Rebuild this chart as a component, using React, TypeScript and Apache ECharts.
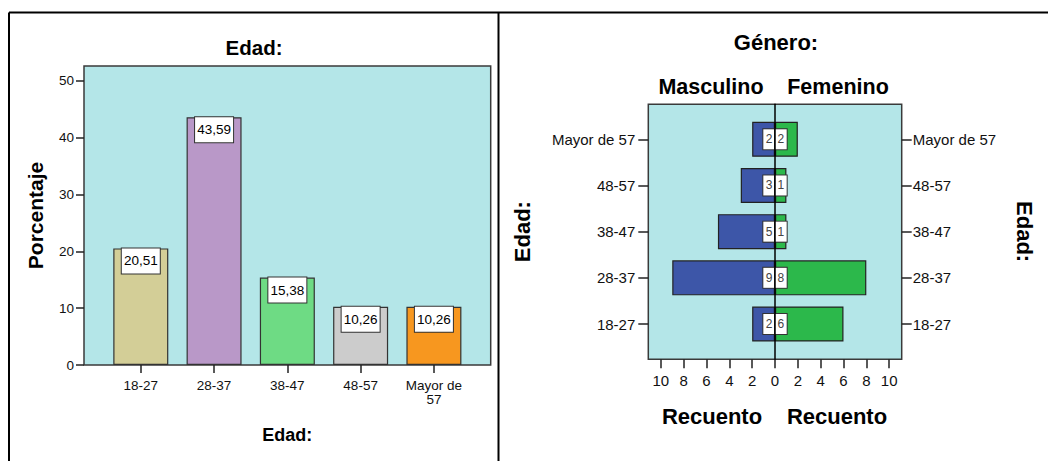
import React, { useEffect, useRef } from 'react';
import * as echarts from 'echarts';

const ageCategories = ['18-27', '28-37', '38-47', '48-57', 'Mayor de 57'];
const ageTickLabels = ['18-27', '28-37', '38-47', '48-57', 'Mayor de\n57'];
const agePercent = [20.51, 43.59, 15.38, 10.26, 10.26];
const ageColors = ['#d3ce97', '#b998c8', '#6edb84', '#cccccc', '#f7971f'];
const percentTicks = [0, 10, 20, 30, 40, 50];
const categoryIndexes = [0, 1, 2, 3, 4];
const maleCounts = [2, 9, 5, 3, 2];
const femaleCounts = [6, 8, 1, 1, 2];
const countTicks = [-10, -8, -6, -4, -2, 0, 2, 4, 6, 8, 10];

const FONT = '"Liberation Sans", Arial, sans-serif';
const PLOT_BG = '#b4e6e8';
const BORDER = '#3a3a3a';

export default function App() {
  const ref = useRef<HTMLDivElement>(null);

  useEffect(() => {
    document.body.style.margin = '0';
    if (!ref.current) return;
    const chart = echarts.init(ref.current, null, { renderer: 'svg' });

    const tickStyle = { color: '#222', width: 1.5 };
    const boldText = (size: number) => ({ fontFamily: FONT, fontWeight: 'bold' as const, fontSize: size, color: '#000' });
    const countLabel = (position: string, align: string) => ({
      show: true, position, distance: 0, align,
      formatter: (p: any) => String(Math.abs(p.value)),
      backgroundColor: '#fff', borderColor: '#333', borderWidth: 1,
      lineHeight: 20, padding: [0, 2.5], fontSize: 12, color: '#444',
    });

    const option: any = {
      animation: false,
      textStyle: { fontFamily: FONT },
      grid: [
        { left: 84, top: 66, width: 406.7, height: 299, show: true, backgroundColor: PLOT_BG, borderColor: BORDER, borderWidth: 1.5 },
        { left: 648.3, top: 104.3, width: 253.4, height: 255, show: true, backgroundColor: PLOT_BG, borderColor: BORDER, borderWidth: 1.5 },
        { left: 648.3, top: 116.2, width: 253.4, height: 230.9, show: false },
      ],
      xAxis: [
        {
          gridIndex: 0, type: 'value', min: -0.775, max: 4.775,
          axisLine: { show: false, onZero: false },
          axisTick: { show: true, customValues: categoryIndexes, length: 8, lineStyle: tickStyle },
          axisLabel: {
            customValues: categoryIndexes, margin: 13, fontSize: 13.5, lineHeight: 14, color: '#111',
            formatter: (v: number) => ageTickLabels[Math.round(v)] ?? '',
          },
          splitLine: { show: false },
          name: 'Edad:', nameLocation: 'middle', nameGap: 61, nameTextStyle: boldText(18),
        },
        {
          gridIndex: 1, type: 'value', min: -11.1, max: 11.1,
          axisLine: { show: false, onZero: false },
          axisTick: { show: true, customValues: countTicks, length: 9, lineStyle: tickStyle },
          axisLabel: { customValues: countTicks, margin: 14, fontSize: 15, color: '#111', formatter: (v: number) => String(Math.abs(v)) },
          splitLine: { show: false },
        },
        {
          gridIndex: 2, type: 'value', min: -11.1, max: 11.1, show: false,
          axisLine: { onZero: false }, splitLine: { show: false },
        },
      ],
      yAxis: [
        {
          gridIndex: 0, type: 'value', min: 0, max: 52.6,
          axisLine: { show: false, onZero: false },
          axisTick: { show: true, customValues: percentTicks, length: 8, lineStyle: tickStyle },
          axisLabel: { customValues: percentTicks, margin: 10, fontSize: 13.5, color: '#111' },
          splitLine: { show: false },
          name: 'Porcentaje', nameLocation: 'middle', nameGap: 38, nameRotate: 90, nameTextStyle: boldText(21),
        },
        {
          gridIndex: 1, type: 'value', min: 0, max: 1, z: 10,
          axisLine: { show: true, onZero: true, lineStyle: { color: '#000', width: 1.5 } },
          axisTick: { show: false }, axisLabel: { show: false }, splitLine: { show: false },
        },
        {
          gridIndex: 2, type: 'category', data: ageCategories, position: 'left',
          axisLine: { show: false, onZero: false },
          axisTick: { show: true, alignWithLabel: true, length: 10, lineStyle: tickStyle },
          axisLabel: { fontSize: 15, margin: 13, color: '#111' },
          name: 'Edad:', nameLocation: 'middle', nameGap: 115, nameRotate: 90, nameTextStyle: boldText(22),
        },
        {
          gridIndex: 2, type: 'category', data: ageCategories, position: 'right',
          axisLine: { show: false, onZero: false },
          axisTick: { show: true, alignWithLabel: true, length: 10, lineStyle: tickStyle },
          axisLabel: { fontSize: 15, margin: 11, color: '#111' },
          name: 'Edad:', nameLocation: 'middle', nameGap: 112, nameRotate: -90, nameTextStyle: boldText(22),
        },
      ],
      series: [
        {
          type: 'bar', xAxisIndex: 0, yAxisIndex: 0, barWidth: 55,
          data: agePercent.map((v, i) => ({ value: [i, v], itemStyle: { color: ageColors[i] } })),
          itemStyle: { borderColor: '#333', borderWidth: 1.2 },
          label: {
            show: true, position: 'insideTop', distance: 0,
            formatter: (p: any) => p.value[1].toFixed(2).replace('.', ','),
            backgroundColor: '#fff', borderColor: '#333', borderWidth: 1,
            width: 38, height: 25, lineHeight: 25, padding: 0, align: 'center',
            fontSize: 13.5, color: '#000',
          },
        },
        {
          type: 'bar', name: 'Masculino', xAxisIndex: 2, yAxisIndex: 2, stack: 'pyr', barWidth: 35,
          data: maleCounts.map((v) => -v),
          itemStyle: { color: '#3d56a8', borderColor: '#222', borderWidth: 1.2 },
          label: countLabel('insideRight', 'right'),
        },
        {
          type: 'bar', name: 'Femenino', xAxisIndex: 2, yAxisIndex: 2, stack: 'pyr', barWidth: 35,
          data: femaleCounts,
          itemStyle: { color: '#2cb84b', borderColor: '#222', borderWidth: 1.2 },
          label: countLabel('insideLeft', 'left'),
        },
      ],
      graphic: [
        { type: 'line', shape: { x1: 9, y1: 12.5, x2: 1048, y2: 12.5 }, style: { stroke: '#000', lineWidth: 2 } },
        { type: 'line', shape: { x1: 9, y1: 12.5, x2: 9, y2: 461 }, style: { stroke: '#000', lineWidth: 2 } },
        { type: 'line', shape: { x1: 498.5, y1: 12.5, x2: 498.5, y2: 461 }, style: { stroke: '#000', lineWidth: 2 } },
        { type: 'text', x: 254, y: 47, style: { text: 'Edad:', fontFamily: FONT, fontWeight: 'bold', fontSize: 20.5, fill: '#000', align: 'center', verticalAlign: 'middle' } },
        { type: 'text', x: 776, y: 42, style: { text: 'Género:', fontFamily: FONT, fontWeight: 'bold', fontSize: 22, fill: '#000', align: 'center', verticalAlign: 'middle' } },
        { type: 'text', x: 711, y: 87, style: { text: 'Masculino', fontFamily: FONT, fontWeight: 'bold', fontSize: 21.5, fill: '#000', align: 'center', verticalAlign: 'middle' } },
        { type: 'text', x: 838, y: 87, style: { text: 'Femenino', fontFamily: FONT, fontWeight: 'bold', fontSize: 21.5, fill: '#000', align: 'center', verticalAlign: 'middle' } },
        { type: 'text', x: 712, y: 416, style: { text: 'Recuento', fontFamily: FONT, fontWeight: 'bold', fontSize: 22, fill: '#000', align: 'center', verticalAlign: 'middle' } },
        { type: 'text', x: 837, y: 416, style: { text: 'Recuento', fontFamily: FONT, fontWeight: 'bold', fontSize: 22, fill: '#000', align: 'center', verticalAlign: 'middle' } },
      ],
    };

    chart.setOption(option);
    return () => chart.dispose();
  }, []);

  return <div ref={ref} style={{ width: 1048, height: 461 }} />;
}
